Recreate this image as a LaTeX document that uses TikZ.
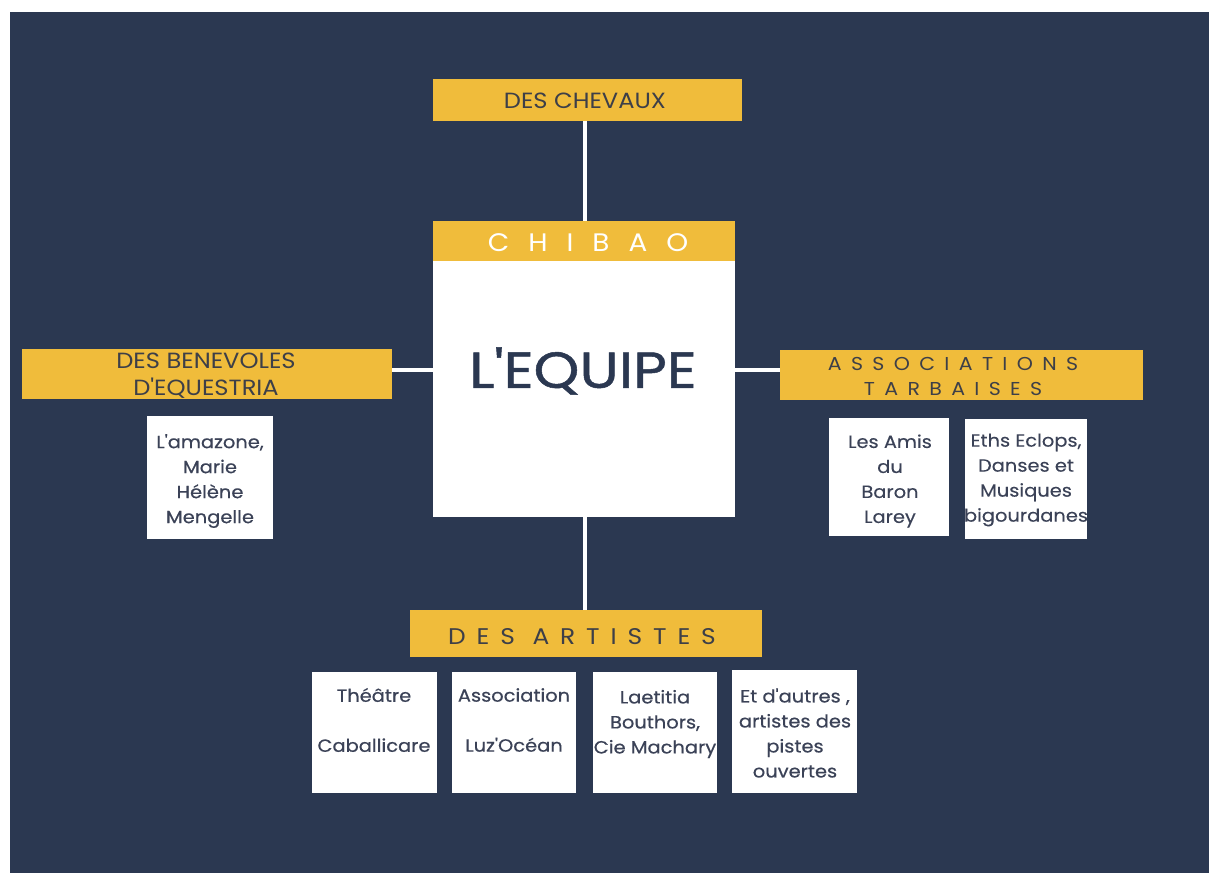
\documentclass[tikz,border=0pt]{standalone}
\usepackage{fontspec}
\setmainfont{Poppins}[Ligatures=TeXOff, FakeStretch=1.1]
\definecolor{navy}{HTML}{2B3851}
\definecolor{gold}{HTML}{F0BC3B}
\definecolor{boxtext}{HTML}{3B4257}
\definecolor{goldtext}{HTML}{3D3F48}
\tikzset{
  goldbox/.style={fill=gold, draw=none, inner sep=0pt, anchor=center},
  whitebox/.style={fill=white, draw=none, inner sep=0pt, anchor=center},
  boxlabel/.style={align=center, inner sep=0pt, text=boxtext, font=\fontsize{13.25}{18.75}\selectfont\addfontfeature{FakeBold=0.5}},
  lightlabel/.style={align=center, inner sep=0pt, text=boxtext, font=\fontsize{13.25}{18.75}\selectfont\addfontfeature{FakeBold=0.15}},
  goldlabel/.style={align=center, inner sep=0pt, text=goldtext},
  link/.style={draw=white, line width=3pt}
}
\begin{document}
\begin{tikzpicture}[x=0.75pt, y=-0.75pt]
\useasboundingbox (0,0) rectangle (1209,873);
\fill[white] (0,0) rectangle (1209,873);
\fill[navy] (10,12) rectangle (1209,873);

% main boxes
\node[goldbox, minimum width=231.75pt, minimum height=31.5pt] (chev) at (587.5,100) {};
\node[goldbox, minimum width=226.5pt, minimum height=30pt] (chibao) at (584,241) {};
\node[whitebox, minimum width=226.5pt, minimum height=192pt] (equipe) at (584,389) {};
\node[goldbox, minimum width=277.5pt, minimum height=37.5pt] (benev) at (207,374) {};
\node[goldbox, minimum width=272.25pt, minimum height=37.5pt] (assoc) at (961.5,375) {};
\node[goldbox, minimum width=264pt, minimum height=35.25pt] (artistes) at (586,633.5) {};

% connectors
\draw[link] (chev.south -| 585,0) -- (chibao.north -| 585,0);
\draw[link] (equipe.south -| 585,0) -- (artistes.north -| 585,0);
\draw[link] (benev.east |- 0,370) -- (equipe.west |- 0,370);
\draw[link] (equipe.east |- 0,370) -- (assoc.west |- 0,370);

% white detail boxes
\node[whitebox, minimum width=94.5pt, minimum height=92.25pt] (amaz) at (210,477.5) {};
\node[whitebox, minimum width=90pt, minimum height=88.5pt] (amis) at (889,477) {};
\node[whitebox, minimum width=91.5pt, minimum height=90pt] (eths) at (1026,479) {};
\node[whitebox, minimum width=93.75pt, minimum height=90.75pt] (th) at (374.5,732.5) {};
\node[whitebox, minimum width=93pt, minimum height=90.75pt] (luz) at (514,732.5) {};
\node[whitebox, minimum width=93pt, minimum height=90.75pt] (laet) at (655,732.5) {};
\node[whitebox, minimum width=93.75pt, minimum height=92.25pt] (autres) at (794.5,731.5) {};

% labels in gold boxes
\node[goldlabel, font=\fontsize{16.5}{18}\selectfont] (chevt) at (585,101) {DES CHEVAUX};
\node[goldlabel, text=white, font=\fontsize{19}{22}\selectfont\addfontfeature{LetterSpace=75}] (chibaot) at (588,243) {CHIBAO};
\node[goldlabel, font=\fontsize{16.5}{20.25}\selectfont] (benevt) at (206,375.5) {DES BENEVOLES\\D'EQUESTRIA};
\node[goldlabel, font=\fontsize{14}{18.75}\selectfont\addfontfeature{LetterSpace=50}] (assoct) at (953,376.5) {ASSOCIATIONS\\TARBAISES};
\node[goldlabel, font=\fontsize{17}{20}\selectfont\addfontfeature{LetterSpace=48}] (artistest) at (582,637) {DES ARTISTES};

% big label
\node[inner sep=0pt, text=navy, font=\fontsize{38}{44}\selectfont\addfontfeature{FakeStretch=1.15,FakeBold=1}] (equipet) at (583,371) {L'EQUIPE};

% labels in white boxes
\node[boxlabel] (amazt) at (210,481) {L'amazone,\\Marie\\Hélène\\Mengelle};
\node[lightlabel] (amist) at (890,481) {Les Amis\\du\\Baron\\Larey};
\node[lightlabel] (ethst) at (1026,480) {Eths Eclops,\\Danses et\\Musiques\\bigourdanes};
\node[boxlabel, font=\fontsize{13.25}{37.5}\selectfont\addfontfeature{FakeBold=0.5}] (tht) at (374,720) {Théâtre\\Caballicare};
\node[boxlabel, font=\fontsize{13.25}{37.5}\selectfont\addfontfeature{FakeBold=0.5}] (luzt) at (514,720) {Association\\Luz'Océan};
\node[boxlabel] (laett) at (655,724) {Laetitia\\Bouthors,\\Cie Machary};
\node[boxlabel] (autrest) at (795,733) {Et d'autres ,\\artistes des\\pistes\\ouvertes};
\end{tikzpicture}
\end{document}
